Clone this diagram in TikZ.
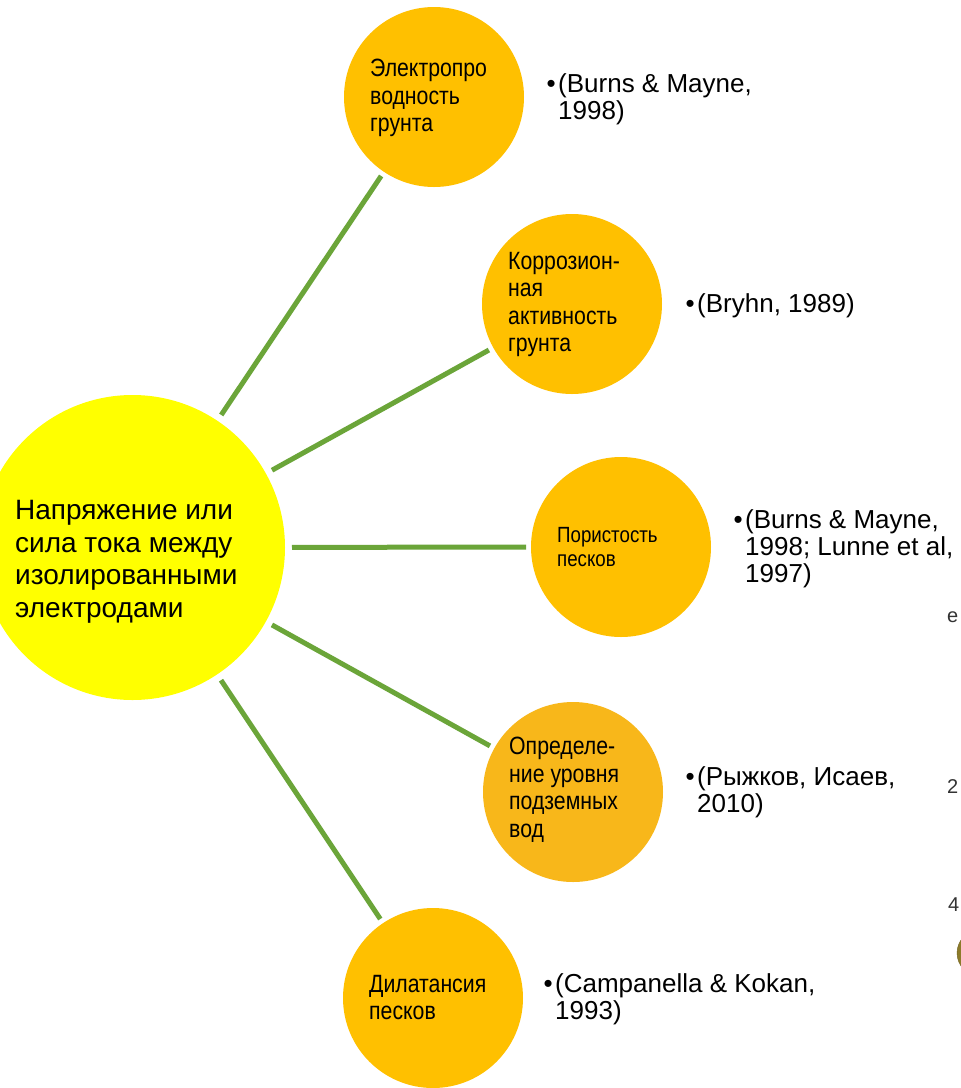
\documentclass[tikz,border=0pt]{standalone}
\usepackage{fontspec}
\setmainfont{Liberation Sans}
\newfontfamily\narrowfont[FakeStretch=0.85]{Liberation Sans}
\usetikzlibrary{positioning}
\definecolor{hubyellow}{HTML}{FFFF00}
\definecolor{gold}{HTML}{FFC000}
\definecolor{goldb}{HTML}{F8B71A}
\definecolor{leafgreen}{HTML}{6BA539}
\definecolor{olivedot}{HTML}{8C7B2A}

\begin{document}
\begin{tikzpicture}[x=1pt,y=-1pt,
  hubnode/.style={circle,fill=hubyellow,minimum size=305pt,inner sep=0pt,outer sep=7pt},
  leaf/.style={circle,fill=gold,minimum size=180pt,inner sep=0pt,outer sep=5pt},
  leaftext/.style={anchor=north west,inner sep=0pt,align=left,font=\narrowfont\fontsize{25}{27.5}\selectfont},
  reftext/.style={anchor=north west,inner sep=0pt,align=left,font=\fontsize{26}{27}\selectfont},
  link/.style={draw=leafgreen,line width=5pt},
  edge/.style={anchor=base west,inner sep=0pt,text=black!80,font=\fontsize{20}{20}\selectfont}]
%%
\clip (0,0) rectangle (961,1088);
\fill[white] (0,0) rectangle (961,1088);
\node (hub) at (132.5,547.5) [hubnode] {};
\node (c1) at (434,97) [leaf] {};
\node (c2) at (572,304) [leaf] {};
\node (c3) at (621,547) [leaf] {};
\node (c4) at (573,792) [leaf,fill=goldb] {};
\node (c5) at (433,998) [leaf] {};
%
\node (hubtext) at (15,500) [anchor=north west,inner sep=0pt,align=left,font=\fontsize{28}{32.7}\selectfont]
  {Напряжение или\\сила тока между\\изолированными\\электродами};
\node (t1) at (370,59) [leaftext] {Электропро\\водность\\грунта};
\node (t2) at (508,252) [leaftext] {Коррозион-\\ная\\активность\\грунта};
\node (t3) at (557,527) [leaftext,font=\narrowfont\fontsize{22}{24}\selectfont] {Пористость\\песков};
\node (t4) at (509,737) [leaftext] {Определе-\\ние уровня\\подземных\\вод};
\node (t5) at (369,975) [leaftext] {Дилатансия\\песков};
%
\node (r1) at (558,73) [reftext] {\llap{•\hspace{2.5pt}}(Burns \& Mayne,\\1998)};
\node (r2) at (697,293) [reftext] {\llap{•\hspace{2.5pt}}(Bryhn, 1989)};
\node (r3) at (745,509) [reftext] {\llap{•\hspace{2.5pt}}(Burns \& Mayne,\\1998; Lunne et al,\\1997)};
\node (r4) at (697,766) [reftext] {\llap{•\hspace{2.5pt}}(Рыжков, Исаев,\\2010)};
\node (r5) at (555,973) [reftext] {\llap{•\hspace{2.5pt}}(Campanella \& Kokan,\\1993)};
%
\draw [link] (hub) -- (c1);
\draw [link] (hub) -- (c2);
\draw [link] (hub) -- (c3);
\draw [link] (hub) -- (c4);
\draw [link] (hub) -- (c5);
%% cut-off bits at the right edge
\node (e1) at (947,622) [edge] {e};
\node (e2) at (947,793) [edge] {2};
\node (e3) at (948,911) [edge] {4};
\node (dot) at (980,953) [circle,fill=olivedot,draw=olivedot!80!black,minimum size=46pt,inner sep=0pt] {};
%
\end{tikzpicture}
\end{document}
